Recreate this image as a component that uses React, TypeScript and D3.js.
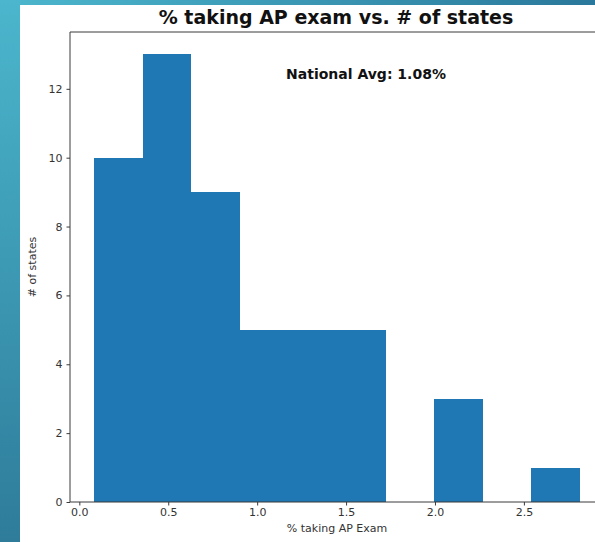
import React, { useEffect, useRef } from 'react';
import * as d3 from 'd3';

// histogram bins
const binEdges = [0.084, 0.357, 0.63, 0.903, 1.176, 1.449, 1.722, 1.995, 2.268, 2.541, 2.814];
const binCounts = [10, 13, 9, 5, 5, 5, 0, 3, 0, 1];
const xTicks = [0.0, 0.5, 1.0, 1.5, 2.0, 2.5];
const yTicks = [0, 2, 4, 6, 8, 10, 12];
const titleText = '% taking AP exam vs. # of states';
const noteText = 'National Avg: 1.08%';

const W = 595;
const H = 542;

const App: React.FC = () => {
  const svgRef = useRef<SVGSVGElement>(null);

  useEffect(() => {
    document.body.style.margin = '0';
    if (!svgRef.current) return;
    const svg = d3.select(svgRef.current);
    svg.selectAll('*').remove();

    const font = '"DejaVu Sans", sans-serif';

    // background slide gradient
    const defs = svg.append('defs');
    const g1 = defs.append('linearGradient').attr('id', 'bgLeft')
      .attr('x1', '0%').attr('y1', '0%').attr('x2', '0%').attr('y2', '100%');
    g1.append('stop').attr('offset', '0%').attr('stop-color', '#4bb6cd');
    g1.append('stop').attr('offset', '100%').attr('stop-color', '#2e7c9a');
    const g2 = defs.append('linearGradient').attr('id', 'bgTop')
      .attr('x1', '0%').attr('y1', '0%').attr('x2', '100%').attr('y2', '0%');
    g2.append('stop').attr('offset', '0%').attr('stop-color', '#4bb5cc');
    g2.append('stop').attr('offset', '100%').attr('stop-color', '#2a789b');

    svg.append('rect').attr('width', W).attr('height', H).attr('fill', 'url(#bgLeft)');
    svg.append('rect').attr('x', 20).attr('width', W - 20).attr('height', 5).attr('fill', 'url(#bgTop)');
    svg.append('rect').attr('x', 20).attr('y', 5).attr('width', W - 20).attr('height', H - 5).attr('fill', '#ffffff');

    // axes area
    const left = 70;
    const top = 32;
    const bottom = 502;
    const right = 604;

    const lo = binEdges[0];
    const hi = binEdges[binEdges.length - 1];
    const pad = (hi - lo) * 0.05;
    const x = d3.scaleLinear().domain([lo - pad, hi + pad]).range([left, right]);
    const yMax = (d3.max(binCounts) || 0) * 1.05;
    const y = d3.scaleLinear().domain([0, yMax]).range([bottom, top]);

    const bins = binCounts.map((c, i) => ({ x0: binEdges[i], x1: binEdges[i + 1], c }));

    svg.append('g').selectAll('rect')
      .data(bins.filter(b => b.c > 0))
      .enter()
      .append('rect')
      .attr('x', d => Math.round(x(d.x0)))
      .attr('y', d => Math.round(y(d.c)))
      .attr('width', d => Math.round(x(d.x1)) - Math.round(x(d.x0)))
      .attr('height', d => Math.round(y(0)) - Math.round(y(d.c)))
      .attr('fill', '#1f77b4')
      .attr('shape-rendering', 'crispEdges');

    // spines
    const spine = '#3a3a3a';
    svg.append('line').attr('x1', left).attr('x2', left).attr('y1', top).attr('y2', bottom)
      .attr('stroke', spine).attr('stroke-width', 1);
    svg.append('line').attr('x1', left).attr('x2', W).attr('y1', top).attr('y2', top)
      .attr('stroke', spine).attr('stroke-width', 1);
    svg.append('line').attr('x1', left).attr('x2', W).attr('y1', bottom).attr('y2', bottom)
      .attr('stroke', spine).attr('stroke-width', 1);

    // x axis
    const xAxis = svg.append('g').attr('transform', `translate(0,${bottom})`)
      .call(d3.axisBottom(x).tickValues(xTicks).tickFormat(d3.format('.1f')).tickSizeOuter(0).tickSize(3.5).tickPadding(3));
    xAxis.select('.domain').remove();
    xAxis.selectAll('line').attr('stroke', spine);
    xAxis.selectAll('text').attr('font-family', font).attr('font-size', 11).attr('fill', '#333');

    // y axis
    const yAxis = svg.append('g').attr('transform', `translate(${left},0)`)
      .call(d3.axisLeft(y).tickValues(yTicks).tickFormat(d3.format('d')).tickSizeOuter(0).tickSize(3.5).tickPadding(4));
    yAxis.select('.domain').remove();
    yAxis.selectAll('line').attr('stroke', spine);
    yAxis.selectAll('text').attr('font-family', font).attr('font-size', 11).attr('fill', '#333');

    // labels
    svg.append('text')
      .attr('x', (left + right) / 2 - 1).attr('y', 24)
      .attr('text-anchor', 'middle')
      .attr('font-family', font).attr('font-weight', 'bold').attr('font-size', 19)
      .attr('fill', '#111')
      .text(titleText);

    svg.append('text')
      .attr('x', 366).attr('y', 79)
      .attr('text-anchor', 'middle')
      .attr('font-family', font).attr('font-weight', 'bold').attr('font-size', 14)
      .attr('fill', '#111')
      .text(noteText);

    svg.append('text')
      .attr('x', (left + right) / 2).attr('y', 532)
      .attr('text-anchor', 'middle')
      .attr('font-family', font).attr('font-size', 11)
      .attr('fill', '#333')
      .text('% taking AP Exam');

    svg.append('text')
      .attr('transform', `translate(36,267) rotate(-90)`)
      .attr('text-anchor', 'middle')
      .attr('font-family', font).attr('font-size', 11)
      .attr('fill', '#333')
      .text('# of states');
  }, []);

  return (
    <div style={{ position: 'absolute', left: 0, top: 0, width: W, height: H, overflow: 'hidden' }}>
      <svg ref={svgRef} width={W} height={H} style={{ display: 'block' }} />
    </div>
  );
};

export default App;
